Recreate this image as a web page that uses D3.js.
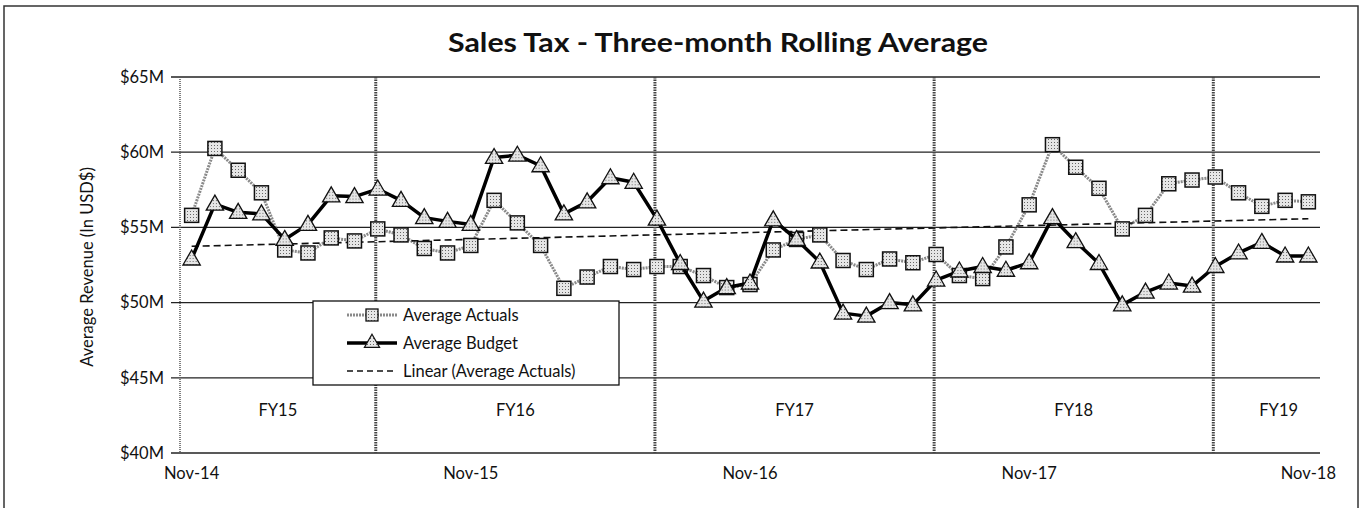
<!DOCTYPE html>
<html>
<head>
<meta charset="utf-8">
<script src="https://cdn.jsdelivr.net/npm/d3@7"></script>
<style>
  html, body { margin: 0; padding: 0; background: #fff; }
  svg { display: block; }
  text { font-family: Lato, "Open Sans", sans-serif; fill: #111; }
</style>
</head>
<body>
<svg id="chart" width="1361" height="508"></svg>
<script>
const months = [
  "Nov-14","Dec-14","Jan-15","Feb-15","Mar-15","Apr-15","May-15","Jun-15","Jul-15","Aug-15","Sep-15","Oct-15",
  "Nov-15","Dec-15","Jan-16","Feb-16","Mar-16","Apr-16","May-16","Jun-16","Jul-16","Aug-16","Sep-16","Oct-16",
  "Nov-16","Dec-16","Jan-17","Feb-17","Mar-17","Apr-17","May-17","Jun-17","Jul-17","Aug-17","Sep-17","Oct-17",
  "Nov-17","Dec-17","Jan-18","Feb-18","Mar-18","Apr-18","May-18","Jun-18","Jul-18","Aug-18","Sep-18","Oct-18",
  "Nov-18"
];
const averageActuals = [
  55.8, 60.25, 58.8, 57.3, 53.5, 53.3, 54.3, 54.1, 54.9, 54.5, 53.6, 53.3,
  53.8, 56.8, 55.3, 53.8, 50.95, 51.7, 52.4, 52.2, 52.4, 52.4, 51.8, 51.0,
  51.2, 53.5, 54.2, 54.5, 52.8, 52.2, 52.9, 52.65, 53.2, 51.8, 51.6, 53.7,
  56.5, 60.5, 59.0, 57.6, 54.9, 55.8, 57.9, 58.15, 58.35, 57.3, 56.4, 56.8,
  56.7
];
const averageBudget = [
  52.9, 56.55, 56.0, 55.9, 54.2, 55.2, 57.1, 57.05, 57.55, 56.8, 55.65, 55.4,
  55.2, 59.65, 59.8, 59.1, 55.9, 56.7, 58.3, 58.0, 55.55, 52.6, 50.1, 51.0,
  51.3, 55.5, 54.2, 52.7, 49.3, 49.1, 50.0, 49.85, 51.5, 52.1, 52.4, 52.15,
  52.65, 55.65, 54.05, 52.6, 49.85, 50.7, 51.3, 51.1, 52.4, 53.3, 54.0, 53.1,
  53.1
];
const yTicks = [40, 45, 50, 55, 60, 65];
const xTickLabels = ["Nov-14", "Nov-15", "Nov-16", "Nov-17", "Nov-18"];
const fiscalYears = ["FY15", "FY16", "FY17", "FY18", "FY19"];
const fyStartMonths = ["Jul-15", "Jul-16", "Jul-17", "Jul-18"];
const titleText = "Sales Tax - Three-month Rolling Average";
const yTitle = "Average Revenue (In USD$)";
const seriesNames = ["Average Actuals", "Average Budget", "Linear (Average Actuals)"];

const svg = d3.select("#chart");
const L = 180, R = 1320, T = 77, B = 453;

// outer border
svg.append("rect").attr("x", 4).attr("y", 6).attr("width", 1354).attr("height", 530)
  .attr("fill", "none").attr("stroke", "#333").attr("stroke-width", 1.5);

// stipple pattern
const defs = svg.append("defs");
const pat = defs.append("pattern").attr("id", "stip").attr("patternUnits", "userSpaceOnUse")
  .attr("width", 3).attr("height", 3);
pat.append("rect").attr("width", 3).attr("height", 3).attr("fill", "#e6e6e6");
pat.append("rect").attr("x", 1).attr("y", 1).attr("width", 1).attr("height", 1).attr("fill", "#666");

const x = d3.scaleBand().domain(months).range([L, R]).paddingInner(0).paddingOuter(0);
const cx = m => x(m) + x.bandwidth() / 2;
const xi = i => cx(months[0]) + i * x.step();
const y = d3.scaleLinear().domain([40, 65]).range([B, T]);

// title
svg.append("text").attr("x", 718).attr("y", 52).attr("text-anchor", "middle")
  .attr("textLength", 540).attr("lengthAdjust", "spacingAndGlyphs")
  .style("font-size", "26px").style("font-weight", "bold").text(titleText);

// gridlines
svg.append("g").selectAll("line").data(yTicks).join("line")
  .attr("x1", L - 9).attr("x2", R).attr("y1", d => y(d)).attr("y2", d => y(d))
  .attr("stroke", "#222").attr("stroke-width", 1.3);

// y axis labels
const yAxis = d3.axisLeft(y).tickValues(yTicks).tickSize(0).tickPadding(16)
  .tickFormat(d => "$" + d + "M");
const gy = svg.append("g").attr("transform", `translate(${L},0)`).call(yAxis);
gy.select(".domain").remove();
gy.selectAll("text").style("font-size", "16.5px").style("font-family", "Lato, sans-serif").attr("fill", "#111");

// left axis dotted line
svg.append("line").attr("x1", L).attr("x2", L).attr("y1", T).attr("y2", B)
  .attr("stroke", "#555").attr("stroke-width", 1.5).attr("stroke-dasharray", "1,1");

// x axis labels
const xAxis = d3.axisBottom(x).tickValues(xTickLabels).tickSize(0).tickPadding(14);
const gx = svg.append("g").attr("transform", `translate(0,${B})`).call(xAxis);
gx.select(".domain").remove();
gx.selectAll("text").style("font-size", "16.5px").style("font-family", "Lato, sans-serif").attr("fill", "#111");

// y title
svg.append("text").attr("transform", `translate(93,${(T + B) / 2 + 2}) rotate(-90)`)
  .attr("text-anchor", "middle").style("font-size", "16.5px").text(yTitle);

// FY divider lines
const fyX = fyStartMonths.map(m => cx(m) - 2);
svg.append("g").selectAll("line").data(fyX).join("line")
  .attr("x1", d => d).attr("x2", d => d).attr("y1", T).attr("y2", B)
  .attr("stroke", "#444").attr("stroke-width", 3).attr("stroke-dasharray", "1.5,1");

// FY labels
const bounds = [L, ...fyX, R];
svg.append("g").selectAll("text").data(fiscalYears).join("text")
  .attr("x", (d, i) => i === fiscalYears.length - 1 ? (bounds[i] + bounds[i + 1]) / 2 + 12 : (bounds[i] + bounds[i + 1]) / 2)
  .attr("y", 416).attr("text-anchor", "middle").style("font-size", "16.5px").text(d => d);

// linear trendline for actuals
const n = averageActuals.length;
const mx = d3.mean(d3.range(n)), my = d3.mean(averageActuals);
const slope = d3.sum(d3.range(n), i => (i - mx) * (averageActuals[i] - my)) / d3.sum(d3.range(n), i => (i - mx) ** 2);
const icpt = my - slope * mx;

// actual series line
const line = d3.line().x((d, i) => xi(i)).y(d => y(d));
svg.append("path").datum(averageActuals).attr("d", line).attr("fill", "none")
  .attr("stroke", "#8a8a8a").attr("stroke-width", 3).attr("stroke-dasharray", "2,1");

// trend
svg.append("line").attr("x1", xi(0)).attr("x2", xi(n - 1))
  .attr("y1", y(icpt)).attr("y2", y(icpt + slope * (n - 1)))
  .attr("stroke", "#111").attr("stroke-width", 1.6).attr("stroke-dasharray", "7,4");

// squares
const sq = 14;
svg.append("g").selectAll("rect").data(averageActuals).join("rect")
  .attr("x", (d, i) => xi(i) - sq / 2).attr("y", d => y(d) - sq / 2)
  .attr("width", sq).attr("height", sq).attr("fill", "url(#stip)")
  .attr("stroke", "#111").attr("stroke-width", 1.5);

// budget line
svg.append("path").datum(averageBudget).attr("d", line).attr("fill", "none")
  .attr("stroke", "#000").attr("stroke-width", 3.5).attr("stroke-linejoin", "round");

const tri = d3.symbol().type(d3.symbolTriangle).size(130);
svg.append("g").selectAll("path").data(averageBudget).join("path")
  .attr("d", tri).attr("transform", (d, i) => `translate(${xi(i)},${y(d) + 1})`)
  .attr("fill", "url(#stip)").attr("stroke", "#111").attr("stroke-width", 1.3);

// legend
const lg = svg.append("g").attr("transform", "translate(313,301)");
lg.append("rect").attr("width", 306).attr("height", 84).attr("fill", "#fff")
  .attr("stroke", "#111").attr("stroke-width", 1.3);
const rowsY = [14, 42, 70];
// row 1
lg.append("line").attr("x1", 34).attr("x2", 84).attr("y1", rowsY[0]).attr("y2", rowsY[0])
  .attr("stroke", "#8a8a8a").attr("stroke-width", 3).attr("stroke-dasharray", "2,1");
lg.append("rect").attr("x", 59 - 6).attr("y", rowsY[0] - 6).attr("width", 12).attr("height", 12)
  .attr("fill", "url(#stip)").attr("stroke", "#111").attr("stroke-width", 1.3);
// row 2
lg.append("line").attr("x1", 34).attr("x2", 84).attr("y1", rowsY[1]).attr("y2", rowsY[1])
  .attr("stroke", "#000").attr("stroke-width", 3.5);
lg.append("path").attr("d", d3.symbol().type(d3.symbolTriangle).size(100))
  .attr("transform", `translate(59,${rowsY[1]})`)
  .attr("fill", "url(#stip)").attr("stroke", "#111").attr("stroke-width", 1.2);
// row 3
lg.append("line").attr("x1", 34).attr("x2", 84).attr("y1", rowsY[2]).attr("y2", rowsY[2])
  .attr("stroke", "#111").attr("stroke-width", 1.4).attr("stroke-dasharray", "6,4");
lg.selectAll("text.lt").data(seriesNames).join("text").attr("class", "lt")
  .attr("x", 90).attr("y", (d, i) => rowsY[i] + 6).style("font-size", "16.5px").text(d => d);
</script>
</body>
</html>
